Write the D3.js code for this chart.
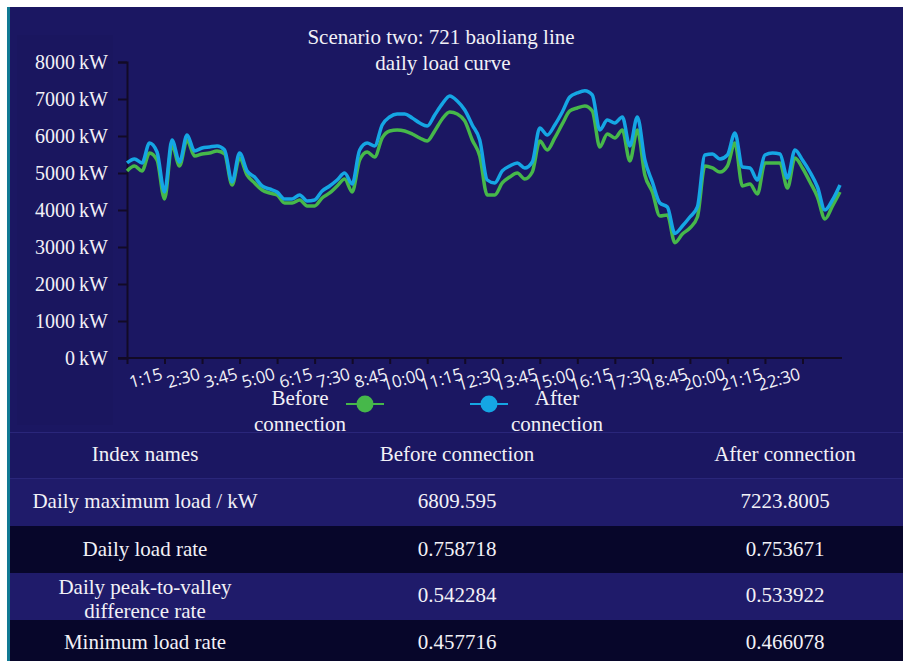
<!DOCTYPE html>
<html lang="en">
  <head>
    <meta charset="utf-8">
    <script type="text/javascript" src="https://d3js.org/d3.v7.min.js"></script>
    <style>
      body { margin: 0; background: #ffffff; }
      text { font-family: "Liberation Serif", "Times New Roman", serif; fill: #f2f1f7; }
    </style>
  </head>
  <body>
    <script type="text/javascript">

    // Chart data (kW, one point per 15 minutes)
    var times = d3.range(96).map(function(i) {
      return Math.floor(i / 4) + ":" + (i % 4 === 0 ? "00" : String((i % 4) * 15));
    });
    var tickLabels = ["1:15", "2:30", "3:45", "5:00", "6:15", "7:30", "8:45", "10:00", "11:15",
                      "12:30", "13:45", "15:00", "16:15", "17:30", "18:45", "20:00", "21:15", "22:30"];
    var yTicks = [0, 1000, 2000, 3000, 4000, 5000, 6000, 7000, 8000];
    var seriesNames = ["Before connection", "After connection"];

    var beforeLoad = [5055, 5190, 5055, 5541, 5352, 4298, 5757, 5190, 5892, 5460,
                      5514, 5541, 5595, 5514, 4676, 5406, 4946, 4730, 4541, 4460,
                      4406, 4190, 4190, 4271, 4109, 4109, 4325, 4460, 4649, 4838,
                      4487, 5352, 5568, 5433, 5947, 6136, 6163, 6136, 6055, 5947,
                      5865, 6136, 6460, 6649, 6595, 6406, 5892, 5460, 4406, 4406,
                      4730, 4892, 5000, 4838, 5027, 5865, 5622, 5947, 6325, 6676,
                      6757, 6809.595, 6676, 5703, 6055, 5947, 6163, 5325, 6163, 4946,
                      4487, 3838, 3865, 3117, 3352, 3514, 3811, 5190, 5136, 5027,
                      5190, 5811, 4649, 4703, 4433, 5271, 5271, 5271, 4595, 5406,
                      5136, 4757, 4352, 3757, 4109, 4487];

    var afterLoad = [5271, 5379, 5271, 5811, 5568, 4487, 5892, 5298, 6027, 5595,
                     5676, 5703, 5730, 5622, 4757, 5541, 5055, 4892, 4649, 4568,
                     4487, 4298, 4298, 4406, 4244, 4271, 4514, 4649, 4811, 5000,
                     4703, 5622, 5811, 5730, 6298, 6514, 6595, 6595, 6487, 6352,
                     6271, 6568, 6866, 7082, 6947, 6703, 6298, 5892, 4811, 4730,
                     5055, 5190, 5271, 5136, 5298, 6217, 6027, 6298, 6649, 7055,
                     7163, 7223.8005, 7109, 6163, 6433, 6352, 6514, 5730, 6514, 5352,
                     4757, 4190, 4082, 3367, 3568, 3811, 4082, 5487, 5514, 5379,
                     5487, 6082, 5163, 5136, 4811, 5487, 5541, 5514, 4865, 5622,
                     5352, 5027, 4622, 4000, 4271, 4676];

    // Table data
    var tableHeader = ["Index names", "Before connection", "After connection"];
    var indexNames = ["Daily maximum load / kW", "Daily load rate",
                      "Daily peak-to-valley\ndifference rate", "Minimum load rate"];
    var beforeIndex = ["6809.595", "0.758718", "0.542284", "0.457716"];
    var afterIndex = ["7223.8005", "0.753671", "0.533922", "0.466078"];

    var colors = {before: "#46b84a", after: "#15a6e4"};

    // Canvas
    var svgW = 903, svgH = 661;
    var svg = d3.select("body").append("svg")
                .attr("width", svgW)
                .attr("height", svgH)
                .style("display", "block");

    // Dark panel with teal edge
    svg.append("rect")
        .attr("x", 7).attr("y", 7)
        .attr("width", svgW - 7).attr("height", svgH - 7)
        .attr("fill", "#1b1762");
    svg.append("rect")
        .attr("x", 7).attr("y", 7)
        .attr("width", 3).attr("height", svgH - 7)
        .attr("fill", "#127a94");
    svg.append("rect")
        .attr("x", 17).attr("y", 35)
        .attr("width", 96).attr("height", 390)
        .attr("fill", "#1a165f");

    // Scales
    var xScale = d3.scalePoint()
                    .domain(times)
                    .range([127, 840]);
    var yScale = d3.scaleLinear()
                    .domain([0, 8000])
                    .range([358, 62]);

    // Title
    var title = svg.append("text")
                    .attr("text-anchor", "middle")
                    .style("font-size", "21px");
    title.append("tspan").attr("x", 441).attr("y", 44).text("Scenario two: 721 baoliang line");
    title.append("tspan").attr("x", 443).attr("y", 70).text("daily load curve");

    // Y axis
    var yAxis = d3.axisLeft(yScale)
                  .tickValues(yTicks)
                  .tickSize(9)
                  .tickPadding(10)
                  .tickFormat(function(d) { return d + "\u2009kW"; });
    var gy = svg.append("g")
                .attr("transform", "translate(127,0)")
                .call(yAxis);
    gy.select(".domain").attr("stroke", "#120a26").attr("stroke-width", 2);
    gy.selectAll(".tick line").attr("stroke", "#120a26").attr("stroke-width", 2);
    gy.selectAll(".tick text")
      .attr("fill", "#f2f1f7")
      .style("font-family", "'Liberation Serif', serif")
      .style("font-size", "20px");

    // X axis
    var xAxis = d3.axisBottom(xScale)
                  .tickValues(times.filter(function(d, i) { return i % 5 === 0 && i < 95; }))
                  .tickSize(6)
                  .tickSizeOuter(0)
                  .tickFormat("");
    var gx = svg.append("g")
                .attr("transform", "translate(0,358)")
                .call(xAxis);
    gx.select(".domain").remove();
    gx.selectAll(".tick line").attr("stroke", "#120a26").attr("stroke-width", 2);
    gx.append("line")
      .attr("x1", 118).attr("x2", 842)
      .attr("stroke", "#120a26").attr("stroke-width", 2);

    svg.append("g").selectAll("text")
        .data(tickLabels)
        .join("text")
          .attr("transform", function(d) {
            return "translate(" + (xScale(d) - 1) + ",379) rotate(-16)";
          })
          .attr("text-anchor", "end")
          .style("font-family", "'Open Sans', sans-serif")
          .style("font-size", "17px")
          .text(function(d) { return d; });

    // Lines
    var line = d3.line()
                  .x(function(d, i) { return xScale(times[i]); })
                  .y(function(d) { return yScale(d); })
                  .curve(d3.curveMonotoneX);

    svg.append("path")
        .datum(beforeLoad)
        .attr("fill", "none")
        .attr("stroke", colors.before)
        .attr("stroke-width", 3.5)
        .attr("d", line);
    svg.append("path")
        .datum(afterLoad)
        .attr("fill", "none")
        .attr("stroke", colors.after)
        .attr("stroke-width", 3.5)
        .attr("d", line);

    // Legend
    var legendItems = [
      {name: seriesNames[0], color: colors.before, cx: 365, tx: 300},
      {name: seriesNames[1], color: colors.after, cx: 489, tx: 557}
    ];
    var legend = svg.append("g").selectAll("g")
                    .data(legendItems)
                    .join("g");
    legend.append("line")
          .attr("x1", function(d) { return d.cx - 19; })
          .attr("x2", function(d) { return d.cx + 19; })
          .attr("y1", 404).attr("y2", 404)
          .attr("stroke", function(d) { return d.color; })
          .attr("stroke-width", 2);
    legend.append("circle")
          .attr("cx", function(d) { return d.cx; })
          .attr("cy", 404)
          .attr("r", 8.5)
          .attr("fill", function(d) { return d.color; });
    var legendText = legend.append("text")
                           .attr("text-anchor", "middle")
                           .style("font-size", "21px");
    legendText.append("tspan")
              .attr("x", function(d) { return d.tx; })
              .attr("y", 405)
              .text(function(d) { return d.name.split(" ")[0]; });
    legendText.append("tspan")
              .attr("x", function(d) { return d.tx; })
              .attr("y", 431)
              .text(function(d) { return d.name.split(" ")[1]; });

    // Table
    var rowKeys = ["header"].concat(indexNames);
    var rowScale = d3.scaleBand()
                      .domain(rowKeys)
                      .range([432, 667]);
    var colX = [145, 457, 785];
    var rowFill = ["#1b1762", "#1f1b6a", "#07062a", "#1f1b6a", "#07062a"];

    var rows = svg.append("g").selectAll("g")
                  .data(rowKeys)
                  .join("g");
    rows.append("rect")
        .attr("x", 10)
        .attr("y", function(d) { return rowScale(d); })
        .attr("width", svgW - 10)
        .attr("height", rowScale.bandwidth())
        .attr("fill", function(d, i) { return rowFill[i]; });

    svg.append("line")
        .attr("x1", 10).attr("x2", svgW)
        .attr("y1", 432.5).attr("y2", 432.5)
        .attr("stroke", "#2a267a");
    svg.append("line")
        .attr("x1", 10).attr("x2", svgW)
        .attr("y1", 478.5).attr("y2", 478.5)
        .attr("stroke", "#2a267a");

    rows.each(function(key, i) {
      var g = d3.select(this);
      var y0 = rowScale(key);
      var cells = i === 0 ? tableHeader : [indexNames[i - 1], beforeIndex[i - 1], afterIndex[i - 1]];
      cells.forEach(function(cell, c) {
        var parts = cell.split("\n");
        var t = g.append("text")
                  .attr("text-anchor", "middle")
                  .style("font-size", "21px");
        if (parts.length > 1) {
          parts.forEach(function(p, k) {
            t.append("tspan").attr("x", colX[c]).attr("y", y0 + 21 + k * 24).text(p);
          });
        } else {
          t.attr("x", colX[c]).attr("y", y0 + (i === 2 ? 30 : 29)).text(cell);
        }
      });
    });

    </script>
  </body>
</html>
